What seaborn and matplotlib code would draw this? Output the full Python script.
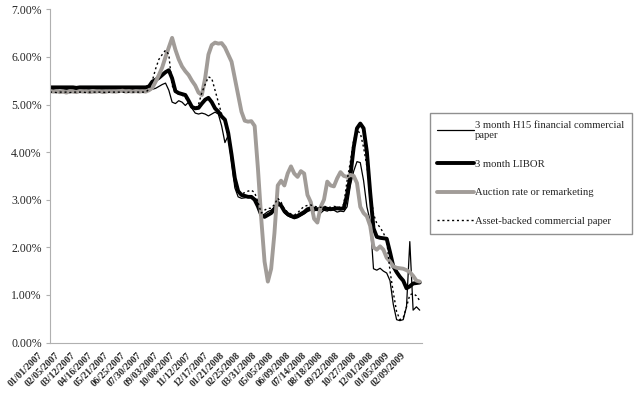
import numpy as np
import pandas as pd
import matplotlib
matplotlib.use("Agg")
import matplotlib.pyplot as plt
import matplotlib.transforms as mtransforms
import seaborn as sns

# weekly observations starting 01/01/2007
date_labels = ['01/01/2007', '02/05/2007', '03/12/2007', '04/16/2007', '05/21/2007',
               '06/25/2007', '07/30/2007', '09/03/2007', '10/08/2007', '11/12/2007',
               '12/17/2007', '01/21/2008', '02/25/2008', '03/31/2008', '05/05/2008',
               '06/09/2008', '07/14/2008', '08/18/2008', '09/22/2008', '10/27/2008',
               '12/01/2008', '01/05/2009', '02/09/2009']

h15_cp = [5.30, 5.31, 5.30, 5.29, 5.30, 5.31, 5.30, 5.30, 5.31, 5.30,
          5.30, 5.31, 5.30, 5.29, 5.30, 5.31, 5.30, 5.30, 5.31, 5.30,
          5.30, 5.30, 5.31, 5.30, 5.30, 5.31, 5.30, 5.30, 5.31, 5.30,
          5.30, 5.32, 5.34, 5.38, 5.42, 5.45, 5.30, 5.05, 5.02, 5.08,
          5.05, 4.98, 5.05, 4.92, 4.82, 4.80, 4.82, 4.80, 4.76, 4.80,
          4.84, 4.80, 4.55, 4.20, 4.35, 3.80, 3.25, 3.06, 3.03, 3.04,
          3.06, 3.05, 3.02, 2.98, 2.64, 2.70, 2.75, 2.78, 2.85, 2.98,
          2.90, 2.72, 2.66, 2.63, 2.60, 2.62, 2.66, 2.70, 2.75, 2.78,
          2.76, 2.80, 2.72, 2.78, 2.76, 2.80, 2.78, 2.74, 2.76, 2.75,
          2.85, 3.30, 3.60, 3.80, 3.78, 3.40, 2.85, 2.55, 1.55, 1.52,
          1.56, 1.50, 1.46, 1.30, 0.80, 0.48, 0.46, 0.48, 0.75, 2.12,
          0.68, 0.75, 0.68]

libor = [5.36, 5.36, 5.36, 5.36, 5.36, 5.36, 5.36, 5.36, 5.35, 5.36,
         5.36, 5.36, 5.36, 5.36, 5.36, 5.36, 5.36, 5.36, 5.36, 5.36,
         5.36, 5.36, 5.36, 5.36, 5.36, 5.36, 5.36, 5.36, 5.36, 5.36,
         5.38, 5.48, 5.52, 5.56, 5.62, 5.68, 5.72, 5.55, 5.28, 5.24,
         5.22, 5.20, 5.08, 4.95, 4.92, 4.93, 5.02, 5.10, 5.14, 5.05,
         4.92, 4.85, 4.75, 4.68, 4.40, 3.95, 3.45, 3.18, 3.10, 3.08,
         3.06, 3.06, 3.00, 2.86, 2.68, 2.64, 2.68, 2.72, 2.80, 2.92,
         2.88, 2.76, 2.70, 2.66, 2.64, 2.66, 2.70, 2.74, 2.80, 2.82,
         2.81, 2.80, 2.81, 2.82, 2.81, 2.80, 2.81, 2.82, 2.81, 2.82,
         3.10, 3.50, 4.10, 4.50, 4.60, 4.50, 4.00, 3.15, 2.40, 2.22,
         2.20, 2.19, 2.18, 1.90, 1.60, 1.48, 1.38, 1.30, 1.14, 1.18,
         1.24, 1.25, 1.26]

auction = [5.28, 5.27, 5.28, 5.26, 5.27, 5.25, 5.28, 5.27, 5.26, 5.28,
           5.27, 5.28, 5.26, 5.27, 5.27, 5.28, 5.26, 5.27, 5.28, 5.27,
           5.27, 5.28, 5.29, 5.27, 5.28, 5.27, 5.28, 5.27, 5.28, 5.27,
           5.30, 5.35, 5.48, 5.62, 5.78, 6.00, 6.20, 6.40, 6.15, 5.95,
           5.80, 5.70, 5.62, 5.50, 5.40, 5.25, 5.20, 5.55, 6.05, 6.25,
           6.30, 6.28, 6.29, 6.20, 6.05, 5.90, 5.55, 5.20, 4.85, 4.66,
           4.64, 4.65, 4.55, 3.65, 2.60, 1.70, 1.28, 1.55, 2.30, 3.30,
           3.40, 3.30, 3.55, 3.70, 3.55, 3.48, 3.60, 3.55, 3.10, 2.95,
           2.60, 2.52, 2.85, 3.00, 3.38, 3.30, 3.28, 3.45, 3.58, 3.50,
           3.48, 3.52, 3.50, 3.35, 2.85, 2.72, 2.65, 2.45, 2.00, 1.95,
           2.02, 1.95, 1.78, 1.70, 1.60, 1.57, 1.56, 1.55, 1.52, 1.48,
           1.40, 1.30, 1.28]

abcp = [5.26, 5.26, 5.25, 5.26, 5.26, 5.26, 5.25, 5.26, 5.26, 5.26,
        5.26, 5.25, 5.26, 5.26, 5.26, 5.26, 5.26, 5.25, 5.26, 5.26,
        5.26, 5.26, 5.26, 5.25, 5.26, 5.26, 5.26, 5.26, 5.26, 5.26,
        5.32, 5.50, 5.75, 5.95, 6.05, 6.14, 6.05, 5.40, 5.25, 5.22,
        5.20, 5.15, 5.05, 4.95, 4.93, 5.00, 5.25, 5.42, 5.58, 5.55,
        5.30, 5.05, 4.80, 4.65, 4.30, 3.90, 3.35, 3.15, 3.12, 3.15,
        3.18, 3.20, 3.15, 2.95, 2.72, 2.78, 2.82, 2.82, 2.90, 3.03,
        2.95, 2.80, 2.74, 2.70, 2.68, 2.72, 2.80, 2.86, 2.88, 2.89,
        2.86, 2.85, 2.84, 2.86, 2.85, 2.84, 2.86, 2.85, 2.84, 2.90,
        3.40, 3.80, 4.25, 4.45, 4.40, 4.10, 3.70, 3.20, 2.70, 2.50,
        2.42, 2.30, 2.15, 1.50, 1.05, 0.65, 0.48, 0.52, 0.75, 1.00,
        1.03, 0.98, 0.88]

data = pd.DataFrame({'week': np.arange(len(libor)), 'h15': h15_cp,
                     'libor': libor, 'auction': auction, 'abcp': abcp})

sns.set_style('white')
plt.rcParams['font.family'] = ['Liberation Serif', 'DejaVu Serif']

fig = plt.figure(figsize=(6.35, 3.98), dpi=100)
ax = fig.add_axes([0.0787, 0.1394, 0.5859, 0.8372])

sns.lineplot(x='week', y='h15', data=data, ax=ax, color='black', linewidth=0.9,
             label='3 month H15 financial commercial\npaper')
sns.lineplot(x='week', y='libor', data=data, ax=ax, color='black', linewidth=2.8,
             label='3 month LIBOR')
sns.lineplot(x='week', y='auction', data=data, ax=ax, color='#a19c98', linewidth=2.8,
             label='Auction rate or remarketing')
sns.lineplot(x='week', y='abcp', data=data, ax=ax, color='black', linewidth=1.0,
             linestyle=(0, (1.5, 2)), label='Asset-backed commercial paper')

ax.set_xlim(0, 112.7)
ax.set_ylim(0, 7)
ax.set_xlabel('')
ax.set_ylabel('')
ax.set_yticks(range(8))
ax.set_yticklabels(['{:.2f}%'.format(v) for v in range(8)])
ax.set_xticks(np.arange(0, 111, 5))
ax.set_xticklabels(date_labels, rotation=45, ha='right', fontsize=7, fontweight='bold')
ax.set_xticks(np.arange(0, 113, 4), minor=True)
ax.tick_params(axis='x', which='major', length=0, pad=6)
ax.tick_params(axis='x', which='minor', length=3, color='#b0b0b0', width=0.8, direction='out')
ax.tick_params(axis='y', length=3, color='#b0b0b0', width=0.8, labelsize=8.5, pad=3, left=True)

# nudge the slanted date labels a little to the left, like the original
shift = mtransforms.ScaledTranslation(-4 / 72, 0, fig.dpi_scale_trans)
for lbl in ax.get_xticklabels():
    lbl.set_transform(lbl.get_transform() + shift)

for side in ['top', 'right']:
    ax.spines[side].set_visible(False)
for side in ['left', 'bottom']:
    ax.spines[side].set_color('#b0b0b0')
    ax.spines[side].set_linewidth(0.8)

leg = ax.legend(loc='upper left', bbox_to_anchor=(0.677, 0.716), bbox_transform=fig.transFigure,
                fontsize=7.7, frameon=True, fancybox=False, edgecolor='#909090', framealpha=1,
                handlelength=3.4, handletextpad=0.1, labelspacing=1.8, borderpad=0.7,
                borderaxespad=0)

plt.savefig('out.png', dpi=100)
